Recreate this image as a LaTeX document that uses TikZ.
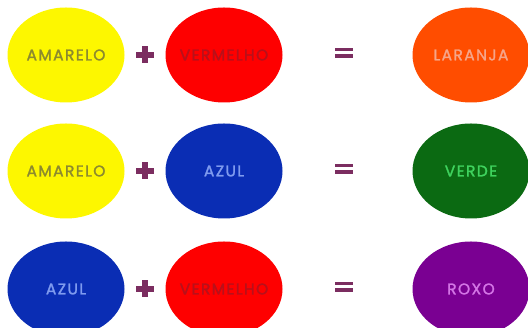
\documentclass[tikz,border=0pt]{standalone}
\usepackage{fontspec}
\setmainfont{Poppins}
\newfontfamily\blobfont[FakeBold=1.6,LetterSpace=9]{Poppins}
\newcommand{\blobtxt}[1]{\makebox[0pt][c]{#1}}
\definecolor{cyel}{HTML}{FDF700}
\definecolor{cred}{HTML}{FE0000}
\definecolor{cora}{HTML}{FF4D00}
\definecolor{cblu}{HTML}{0A2DB4}
\definecolor{cgre}{HTML}{0B6A12}
\definecolor{cpur}{HTML}{7A0092}
\definecolor{topc}{HTML}{7B2D60}
\definecolor{tyel}{HTML}{8C8A2E}
\definecolor{tred}{HTML}{B8101A}
\definecolor{tora}{HTML}{F6A58A}
\definecolor{tblu}{HTML}{7F9BEF}
\definecolor{tgre}{HTML}{3FD35E}
\definecolor{tpur}{HTML}{D475E6}
\begin{document}
\begin{tikzpicture}[x=1pt,y=1pt,
  blob/.style={ellipse, minimum width=117pt, minimum height=95pt, inner sep=0pt,
    font=\blobfont\fontsize{15.5}{16}\selectfont},
  opbar/.style={fill=topc, draw=none}]
\usetikzlibrary{shapes.geometric}
\useasboundingbox (0,0) rectangle (528,328);
\fill[white] (0,0) rectangle (528,328);
% row 1
\node[blob, fill=cyel, text=tyel] (a1) at (66,273) {\blobtxt{AMARELO}};
\node[blob, fill=cred, text=tred] (b1) at (224,273) {\blobtxt{VERMELHO}};
\node[blob, fill=cora, text=tora] (c1) at (471,273) {\blobtxt{LARANJA}};
% row 2
\node[blob, fill=cyel, text=tyel] (a2) at (66,157) {\blobtxt{AMARELO}};
\node[blob, fill=cblu, text=tblu] (b2) at (224,157) {\blobtxt{AZUL}};
\node[blob, fill=cgre, text=tgre] (c2) at (471,157) {\blobtxt{VERDE}};
% row 3
\node[blob, fill=cblu, text=tblu] (a3) at (66,39) {\blobtxt{AZUL}};
\node[blob, fill=cred, text=tred] (b3) at (224,39) {\blobtxt{VERMELHO}};
\node[blob, fill=cpur, text=tpur] (c3) at (471,39) {\blobtxt{ROXO}};
% operators
\foreach \yy/\nm in {273/1,157/2,39/3}{
  \coordinate (p\nm) at (145,\yy);
  \coordinate (e\nm) at (344,\yy+2);
  \fill[opbar] ([xshift=-9pt,yshift=-2.7pt]p\nm) rectangle ([xshift=9pt,yshift=2.7pt]p\nm);
  \fill[opbar] ([xshift=-2.7pt,yshift=-8.5pt]p\nm) rectangle ([xshift=2.7pt,yshift=8.5pt]p\nm);
  \fill[opbar] ([xshift=-9pt,yshift=1.5pt]e\nm) rectangle ([xshift=9pt,yshift=5pt]e\nm);
  \fill[opbar] ([xshift=-9pt,yshift=-5pt]e\nm) rectangle ([xshift=9pt,yshift=-1.5pt]e\nm);
}
\end{tikzpicture}
\end{document}
